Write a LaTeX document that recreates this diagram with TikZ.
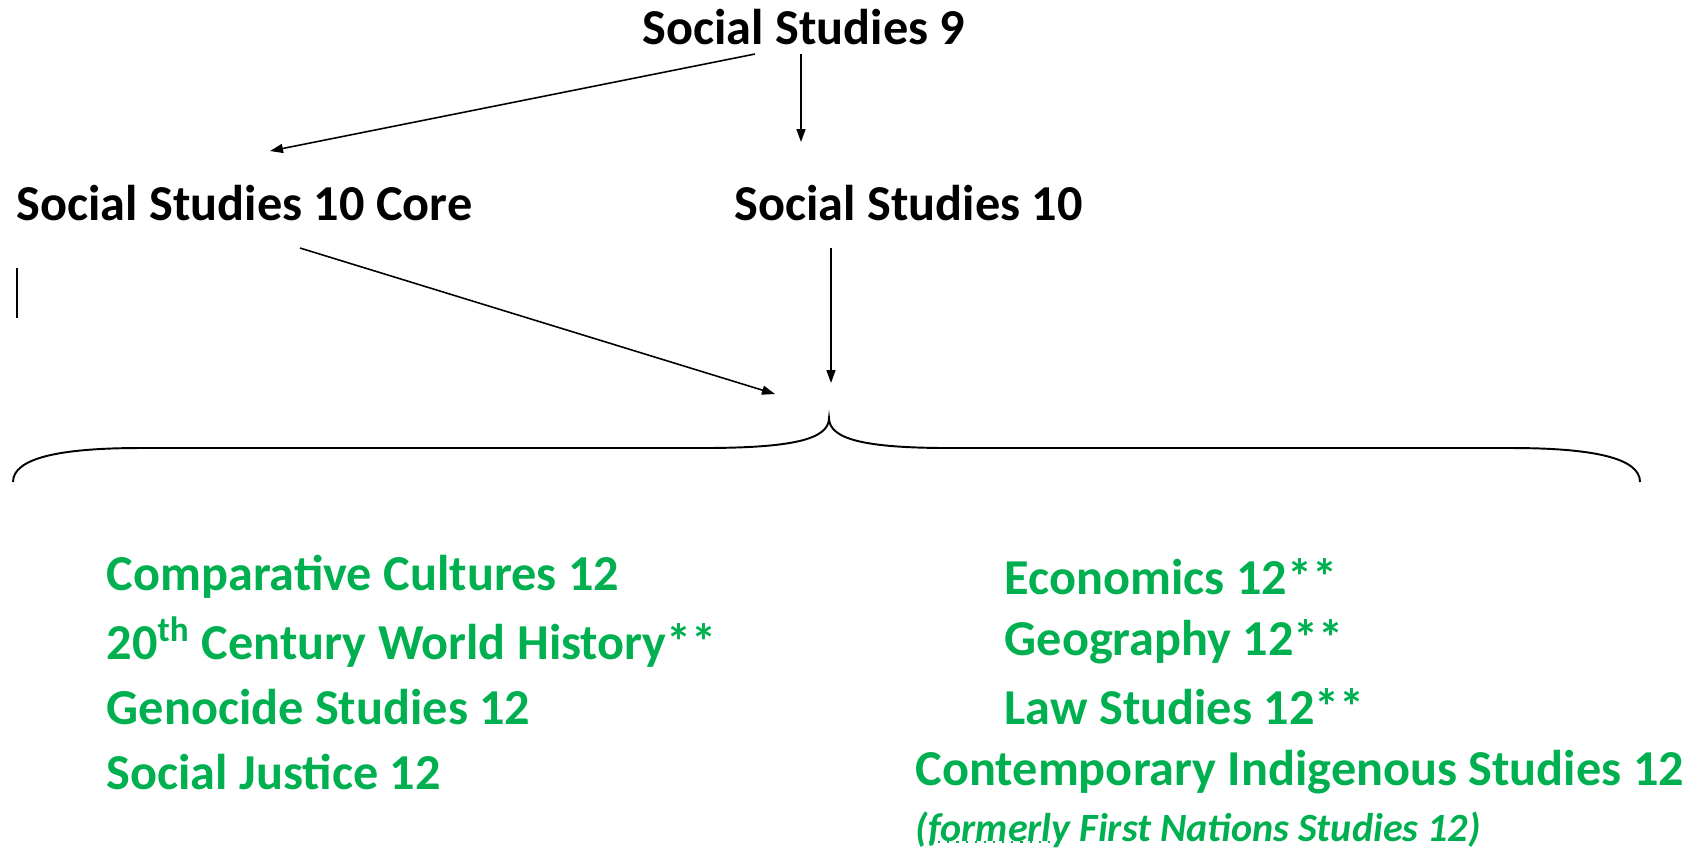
\documentclass[tikz,border=0pt]{standalone}
\usepackage{fontspec}
\setmainfont{Carlito}
\usepackage{xcolor}
\usetikzlibrary{arrows.meta}
\definecolor{course}{HTML}{00B050}

\begin{document}
\begin{tikzpicture}[x=0.01cm,y=-0.01cm,
  every node/.style={inner sep=0pt,font=\fontsize{14.3}{17}\selectfont\bfseries},
  arr/.style={-{Triangle[length=0.13cm,width=0.09cm]},line width=0.45pt},
  elective/.style={anchor=west,text=course}]
\useasboundingbox (0,0) rectangle (1692,847);

% grade 9 and 10
\node (ss9) at (804,27) {Social Studies 9};
\node[anchor=west] (core) at (16,203) {Social Studies 10 Core};
\node[anchor=west] (ss10) at (734,203) {Social Studies 10};

\coordinate (s1) at (755,54);
\coordinate (s2) at (801,54);
\coordinate (e1) at (270,151);
\coordinate (e2) at (801,142);
\coordinate (s3) at (300,248);
\coordinate (s4) at (831,248);
\coordinate (e3) at (775,394);
\coordinate (e4) at (831,383);
\coordinate (tip) at (829,418);

\draw[arr] (s1) -- (e1);
\draw[arr] (s2) -- (e2);
\draw[arr] (s3) -- (e3);
\draw[arr] (s4) -- (e4);

\draw[line width=0.6pt] (17,268) -- (17,318);

% brace
\draw[line width=0.55pt] (13,482) .. controls (13,458) and (60,448) .. (140,448)
  -- (701,448) .. controls (790,448) and (829,440) .. (tip)
  .. controls (829,440) and (868,448) .. (950,448)
  -- (1511,448) .. controls (1593,448) and (1640,458) .. (1640,482);

% grade 12
\node[elective] (cc) at (106,577) {Comparative Cultures 12};
\node[elective] (wh) at (106,642) {20\textsuperscript{th} Century World History**};
\node[elective] (gs) at (106,707) {Genocide Studies 12};
\node[elective] (sj) at (106,772) {Social Justice 12};

\node[elective] (eco) at (1004,577) {Economics 12**};
\node[elective] (geo) at (1004,642) {Geography 12**};
\node[elective] (law) at (1004,707) {Law Studies 12**};
\node[elective] (cis) at (915,772) {Contemporary Indigenous Studies 12};
\node[elective,font=\fontsize{11.4}{13}\selectfont\bfseries\itshape] (fns) at (915,830)
  {(formerly First Nations Studies 12)};
\draw[course,dotted,line width=0.6pt] (929,842) -- (1061,842);

\end{tikzpicture}
\end{document}
